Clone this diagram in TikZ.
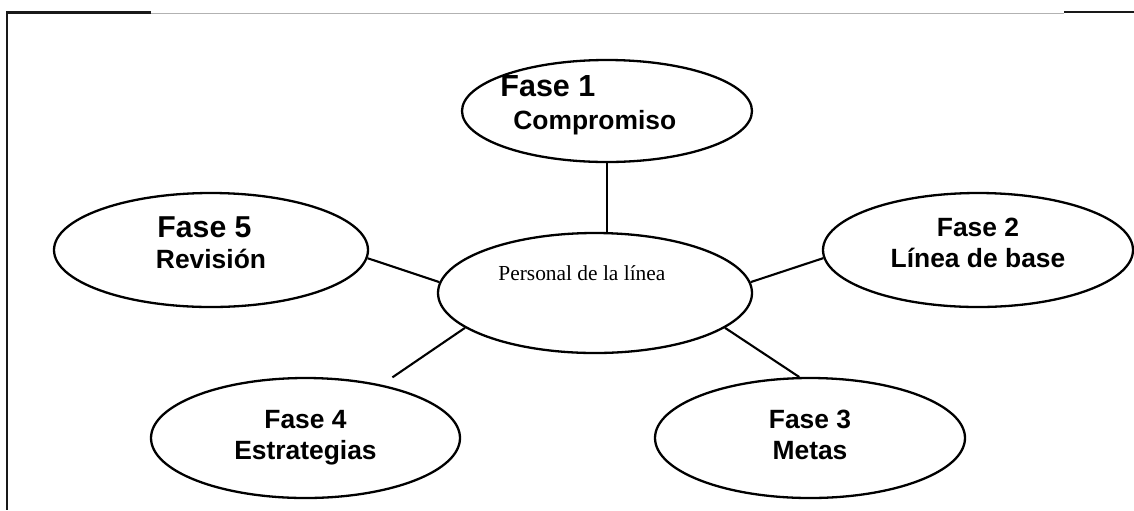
\documentclass[tikz,border=0pt]{standalone}
\usepackage{fontspec}
\setmainfont{Liberation Serif}
\newfontfamily\arialfont{Liberation Sans}
\usetikzlibrary{shapes.geometric}

\begin{document}
\begin{tikzpicture}[x=0.5pt,y=-0.5pt]

	\tikzstyle{every node}=[font=\arialfont\bfseries\fontsize{13.2}{15.5}\selectfont]
	\tikzstyle{fase}=[draw, ellipse, line width=1.15pt, inner sep=0pt, align=center]
	\tikzstyle{enlace}=[line width=1.05pt]

	\useasboundingbox (0,0) rectangle (1134,510);

	% marco de la pagina
	\draw[line width=1.3pt, black!90] (7,12) -- (7,510);
	\draw[line width=1.1pt, black!90] (6.35,12.4) -- (151,12.4);
	\draw[line width=0.6pt, black!30] (151,13.2) -- (1064,13.2);
	\draw[line width=1.1pt, black!90] (1064,11.8) -- (1134,11.8);

	% centro
	\node[fase, minimum width=157pt, minimum height=60pt] (pers) at (595,293) {};
	\node[font=\rmfamily\fontsize{10.7}{12}\selectfont, anchor=base west, inner sep=0pt] (perstxt) at ([shift={(-97,-13)}]pers.center) {Personal de la línea};

	% fases
	\node[fase, minimum width=145pt, minimum height=51pt] (f1) at (607,111) {};
	\node[anchor=north west, inner sep=0pt, align=left, font=\arialfont\bfseries\fontsize{13.2}{16.5}\selectfont] (f1txt) at ([shift={(-107,-36)}]f1.center) {{\fontsize{15.25}{16.5}\selectfont Fase 1}\\\hspace*{6.5pt}Compromiso};

	\node[fase, minimum width=155pt, minimum height=57pt, text depth=7.5pt] (f2) at (978,250) {Fase 2\\Línea de base};
	\node[fase, minimum width=155pt, minimum height=60pt, text depth=3.5pt] (f3) at (810,438) {Fase 3\\Metas};
	\node[fase, minimum width=154.5pt, minimum height=60pt, text depth=3.5pt] (f4) at (305.5,438) {Fase 4\\Estrategias};
	\node[fase, minimum width=157pt, minimum height=57pt, text depth=7.5pt] (f5) at (211,250) {{\fontsize{15.1}{15.5}\selectfont Fase 5}\hspace*{6.5pt}\\Revisión};

	% enlaces
	\draw[enlace] (f1.south) -- (f1.south |- pers.north);
	\draw[enlace] (pers.4) -- (f2.183);
	\draw[enlace] (pers.-15.6) -- (f3.100);
	\draw[enlace, shorten >=6.5pt] (pers.195.6) -- (f4.35.7);
	\draw[enlace] (f5.-3) -- (pers.176);

\end{tikzpicture}
\end{document}
